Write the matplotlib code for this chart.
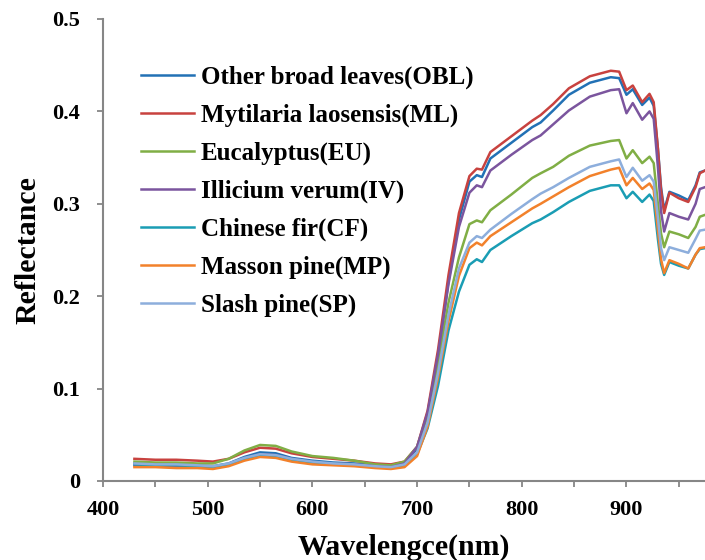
import numpy as np
import matplotlib.pyplot as plt

# longitud de onda (nm)
wl = [430, 450, 470, 490, 505, 520, 535, 550, 565, 580, 600, 620, 640, 660, 675, 688,
      700, 710, 720, 730, 740, 750, 757, 762, 770, 790, 810, 818, 830, 845, 865, 885,
      893, 900, 906, 915, 922, 926, 930, 933, 936, 941, 950, 959, 966, 970, 975]

obl = [.019, .018, .018, .017, .016, .019, .026, .031, .030, .025, .022, .020, .019, .017, .016, .019,
       .035, .072, .135, .216, .283, .324, .331, .329, .349, .366, .383, .388, .401, .418, .431, .437,
       .436, .418, .424, .407, .415, .406, .360, .318, .293, .313, .309, .304, .320, .334, .336]
ml = [.024, .023, .023, .022, .021, .024, .031, .036, .035, .030, .026, .024, .022, .019, .018, .021,
      .037, .076, .142, .223, .290, .330, .338, .337, .356, .373, .390, .396, .408, .425, .438, .444,
      .443, .423, .428, .410, .419, .410, .360, .315, .290, .312, .306, .302, .318, .333, .336]
eu = [.021, .020, .020, .019, .019, .024, .033, .039, .038, .032, .027, .025, .022, .018, .017, .021,
      .037, .071, .127, .193, .242, .278, .282, .280, .293, .310, .328, .333, .340, .352, .363, .368,
      .369, .349, .358, .344, .351, .344, .300, .268, .253, .270, .267, .263, .275, .286, .288]
iv = [.017, .017, .016, .016, .015, .018, .024, .029, .028, .024, .020, .019, .018, .016, .015, .019,
      .037, .074, .137, .213, .275, .312, .320, .318, .336, .353, .369, .374, .386, .401, .416, .423,
      .424, .398, .409, .391, .400, .392, .340, .292, .270, .290, .286, .283, .300, .316, .318]
cf = [.018, .017, .017, .016, .015, .018, .024, .028, .027, .023, .020, .019, .017, .015, .014, .017,
      .029, .057, .103, .163, .205, .234, .240, .237, .250, .265, .279, .283, .291, .302, .314, .320,
      .320, .306, .313, .302, .310, .303, .262, .235, .223, .237, .233, .230, .245, .251, .252]
mp = [.015, .015, .014, .014, .013, .016, .022, .026, .025, .021, .018, .017, .016, .014, .013, .015,
      .027, .059, .112, .173, .222, .252, .258, .255, .265, .280, .295, .300, .308, .318, .330, .337,
      .339, .320, .328, .316, .322, .315, .272, .240, .225, .239, .235, .230, .245, .252, .253]
sp = [.019, .018, .018, .017, .016, .019, .025, .029, .028, .024, .021, .019, .018, .016, .015, .018,
      .031, .063, .117, .180, .230, .258, .265, .263, .272, .289, .305, .311, .318, .328, .340, .346,
      .348, .329, .339, .325, .331, .324, .285, .252, .239, .253, .250, .247, .262, .271, .272]

nombres = ['Other broad leaves(OBL)', 'Mytilaria laosensis(ML)', 'Eucalyptus(EU)',
           'Illicium verum(IV)', 'Chinese fir(CF)', 'Masson pine(MP)', 'Slash pine(SP)']
colores = ['#2271B5', '#C8423F', '#80AE45', '#7B559E', '#1A9DB4', '#F2812B', '#8DAEDC']
series = [obl, ml, eu, iv, cf, mp, sp]

plt.rcParams['font.family'] = 'Liberation Serif'
plt.rcParams['font.weight'] = 'bold'

fig = plt.figure(figsize=(7.05, 5.6), dpi=100)
ax = fig.add_axes([103/705, 1-481/560, 1-103/705, (481-19)/560])

for s, c, n in zip(series, colores, nombres):
    ax.plot(wl, s, color=c, lw=1.8, label=n)

ax.set_xlim(400, 975)
ax.set_ylim(0, 0.5)
ax.set_xticks(np.arange(400, 951, 50))
ax.set_xticklabels([str(v) if v % 100 == 0 else '' for v in range(400, 951, 50)])
ax.set_yticks([0, 0.1, 0.2, 0.3, 0.4, 0.5])
ax.set_yticklabels(['0', '0.1', '0.2', '0.3', '0.4', '0.5'])
ax.tick_params(labelsize=16, length=4.5, width=1.3, color='#868686')
ax.tick_params(axis='y', pad=12)
ax.tick_params(axis='x', pad=9)

for lado in ['top', 'right']:
    ax.spines[lado].set_visible(False)
for lado in ['left', 'bottom']:
    ax.spines[lado].set_color('#868686')
    ax.spines[lado].set_linewidth(1.5)

ax.set_xlabel('Wavelengce(nm)', fontsize=21.5, fontweight='bold', labelpad=10)
ax.set_ylabel('Reflectance', fontsize=21.5, fontweight='bold', labelpad=8)

ax.legend(loc='upper left', bbox_to_anchor=(141/705, 1-66/560), bbox_transform=fig.transFigure,
          frameon=False, fontsize=18, handlelength=2.1, handletextpad=0.3,
          labelspacing=0.58, borderpad=0, borderaxespad=0)

plt.savefig('out.png', dpi=100)
